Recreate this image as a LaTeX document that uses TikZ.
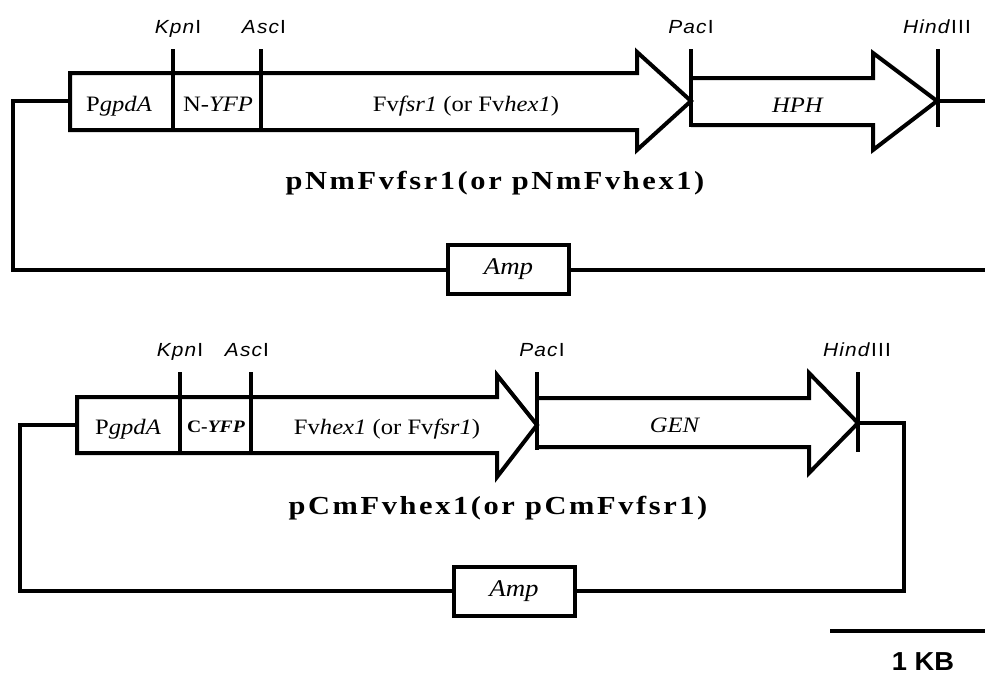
\documentclass[tikz,border=0pt]{standalone}
\usepackage{fontspec}
\setmainfont{Liberation Serif}
\newfontfamily\sitefamily[FakeStretch=1.1,LetterSpace=6]{Liberation Sans}
\newfontfamily\partfamily[FakeStretch=1.12]{Liberation Serif}
\newfontfamily\namefamily[FakeStretch=1.17,LetterSpace=10]{Liberation Serif}
\newfontfamily\ampfamily[FakeStretch=1.12]{Liberation Serif}
\newfontfamily\barfamily[FakeStretch=1.05]{Liberation Sans}

\tikzset{
  dna/.style={line width=4pt, line join=miter},
  site/.style={anchor=base, inner sep=0pt, font=\sitefamily\fontsize{19}{22}\selectfont},
  part/.style={anchor=base, inner sep=0pt, font=\partfamily\fontsize{22}{25}\selectfont},
  plasmid/.style={anchor=base, inner sep=0pt, font=\namefamily\bfseries\fontsize{26}{30}\selectfont},
  marker/.style={draw, line width=4pt, fill=white, minimum width=121pt, minimum height=49pt, inner sep=0pt, font=\ampfamily\itshape\fontsize{24}{26}\selectfont}
}

\begin{document}
\begin{tikzpicture}[x=1pt,y=-1pt]
  \useasboundingbox (0,0) rectangle (985,675);

  % pNm construct
  \draw[dna] (70,73) -- (637,73) -- (637,52) -- (691,101) -- (637,150) -- (637,130) -- (70,130) -- cycle;
  \draw[dna] (691,78) -- (873,78) -- (873,53) -- (937,101) -- (873,150) -- (873,125) -- (691,125);
  \draw[dna] (173,49) -- (173,130);
  \draw[dna] (261,49) -- (261,130);
  \draw[dna] (691,49) -- (691,127);
  \draw[dna] (938,49) -- (938,127);
  \node[site] (kpnN) at (178,33) {\textit{Kpn}I};
  \node[site] (ascN) at (264,33) {\textit{Asc}I};
  \node[site] (pacN) at (691,33) {\textit{Pac}I};
  \node[site] (hindN) at (937,33) {\textit{Hind}III};
  \node[part] (promN) at (119,111) {P\textit{gpdA}};
  \node[part] (yfpN) at (218,111) {N-\textit{YFP}};
  \node[part] (geneN) at (466,111) {Fv\textit{fsr1} (or Fv\textit{hex1})};
  \node[part] (hphN) at (798,112) {\textit{HPH}};
  \node[plasmid] (nameN) at (495,189) {pNmFvfsr1(or pNmFvhex1)};
  \node[marker] (ampN) at (508.5,269.5) {Amp};
  \coordinate (startN) at (70,101);
  \coordinate (endN) at (938,101);
  \draw[dna] (startN) -- (13,101) |- (ampN.west);
  \draw[dna] (ampN.east) -- (985,269.5);
  \draw[dna] (endN) -- (985,101);

  % pCm construct
  \draw[dna] (77,397) -- (497,397) -- (497,375) -- (537,425) -- (497,477) -- (497,453) -- (77,453) -- cycle;
  \draw[dna] (537,398) -- (809,398) -- (809,373) -- (858,423) -- (809,473) -- (809,447) -- (537,447);
  \draw[dna] (180,372) -- (180,453);
  \draw[dna] (251,372) -- (251,453);
  \draw[dna] (537,372) -- (537,450);
  \draw[dna] (858,372) -- (858,452);
  \node[site] (kpnC) at (180,356) {\textit{Kpn}I};
  \node[site] (ascC) at (247,356) {\textit{Asc}I};
  \node[site] (pacC) at (542,356) {\textit{Pac}I};
  \node[site] (hindC) at (857,356) {\textit{Hind}III};
  \node[part] (promC) at (128,434) {P\textit{gpdA}};
  \node[part, font=\partfamily\fontsize{17.5}{19}\selectfont] (yfpC) at (216,432) {\textbf{C-\textit{YFP}}};
  \node[part] (geneC) at (387,434) {Fv\textit{hex1} (or Fv\textit{fsr1})};
  \node[part] (genC) at (675,432) {\textit{GEN}};
  \node[plasmid] (nameC) at (498,514) {pCmFvhex1(or pCmFvfsr1)};
  \node[marker] (ampC) at (514,591) {Amp};
  \coordinate (startC) at (77,425);
  \coordinate (endC) at (858,423);
  \draw[dna] (startC) -- (20,425) |- (ampC.west);
  \draw[dna] (endC) -- (904,423) |- (ampC.east);

  % scale bar
  \draw[dna] (830,631) -- (985,631);
  \node[anchor=base, inner sep=0pt, font=\barfamily\bfseries\fontsize{26}{28}\selectfont] (barL) at (923,670) {1 KB};
\end{tikzpicture}
\end{document}
